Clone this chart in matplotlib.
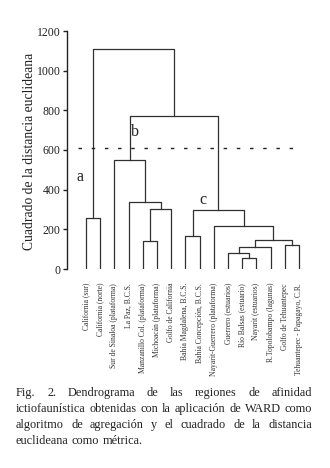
import numpy as np
import matplotlib
matplotlib.use('Agg')
import matplotlib.pyplot as plt
import matplotlib.transforms as mtransforms

plt.rcParams['font.family'] = ['Liberation Serif', 'DejaVu Serif']

# hojas del dendrograma (en orden)
hojas = ['California (sur)', 'California (norte)', 'Sur de Sinaloa (plataforma)',
         'La Paz, B.C.S.', 'Manzanillo Col. (plataforma)', 'Michoacán (plataforma)',
         'Golfo de California', 'Bahía Magdalena, B.C.S.', 'Bahía Concepción, B.C.S.',
         'Nayarit-Guerrero (plataforma)', 'Guerrero (estuarios)', 'Río Balsas (estuario)',
         'Nayarit (estuarios)', 'R.Topolobampo (lagunas)', 'Golfo de Tehuantepec',
         'Tehuantepec - Papagayo, C.R.']

# uniones: nodo izquierdo, nodo derecho (ids nuevos desde 16)
union_izq = [0, 4, 17, 3, 2, 7, 11, 10, 23, 14, 24, 9, 21, 20, 16]
union_der = [1, 5, 6, 18, 19, 8, 12, 22, 13, 15, 25, 26, 27, 28, 29]
altura = [258, 140, 305, 340, 550, 168, 55, 82, 112, 122, 148, 215, 300, 770, 1110]

corte = 612
ticks_y = [0, 200, 400, 600, 800, 1000, 1200]

letras = ['a', 'b', 'c']
letras_x = [-0.42, 3.45, 8.24]
letras_y = [466, 693, 349]

caption = ["Fig. 2. Dendrograma de las regiones de afinidad",
           "ictiofaunística obtenidas con la aplicación de WARD como",
           "algoritmo de agregación y el cuadrado de la distancia",
           "euclideana como métrica."]

W, H = 330, 468
fig = plt.figure(figsize=(W / 100, H / 100), dpi=100)
ax = fig.add_axes([67 / W, 1 - 269 / H, 240 / W, 238 / H])

col = '#303030'
n = len(hojas)
pos_x = {i: float(i) for i in range(n)}
pos_y = {i: 0.0 for i in range(n)}
for k, (a, b, h) in enumerate(zip(union_izq, union_der, altura)):
    xa, ya = pos_x[a], pos_y[a]
    xb, yb = pos_x[b], pos_y[b]
    ax.plot([xa, xa, xb, xb], [ya, h, h, yb], color=col, lw=0.9)
    pos_x[n + k] = (xa + xb) / 2
    pos_y[n + k] = h

ax.plot([-0.6, 15.1], [corte, corte], color='#222222', lw=1.0,
        linestyle=(0, (2.5, 7)))

for t, x, y in zip(letras, letras_x, letras_y):
    ax.text(x, y, t, fontsize=11.5, ha='center', va='center', color='#222222')

ax.set_xlim(-1.34, 15.56)
ax.set_ylim(0, 1200)
ax.set_yticks(ticks_y)
ax.set_xticks([])
for s in ['top', 'right', 'bottom']:
    ax.spines[s].set_visible(False)
ax.spines['left'].set_color('#222222')
ax.spines['left'].set_linewidth(1.0)
ax.tick_params(axis='y', length=3, width=1, pad=1.5, labelsize=8.5, colors='#222222')

trans = mtransforms.blended_transform_factory(ax.transData, ax.transAxes)
for i, lab in enumerate(hojas):
    ax.text(i, -14 / 238, lab, rotation=90, ha='center', va='top',
            fontsize=5.5, transform=trans, color='#333333')

fig.text(30 / W, 1 - 151 / H, 'Cuadrado de la distancia euclideana', rotation=90,
         ha='center', va='center', fontsize=9.8, color='#222222')

# pie de figura justificado
renderer = fig.canvas.get_renderer()
fs = 8.8
x0, x1 = 16, 312
base = [396, 412, 428, 444]
hueco_min = 0.25 * fs * 100 / 72
for j, linea in enumerate(caption):
    palabras = linea.split(' ')
    txts = [fig.text(0, 1 - base[j] / H, p, fontsize=fs, va='baseline', ha='left',
                     color='#222222') for p in palabras]
    anchos = [t.get_window_extent(renderer).width for t in txts]
    if j < len(caption) - 1:
        hueco = max(hueco_min, (x1 - x0 - sum(anchos)) / (len(palabras) - 1))
    else:
        hueco = hueco_min
    x = x0
    for t, w in zip(txts, anchos):
        t.set_x(x / W)
        x += w + hueco

fig.savefig('out.png', dpi=100)
